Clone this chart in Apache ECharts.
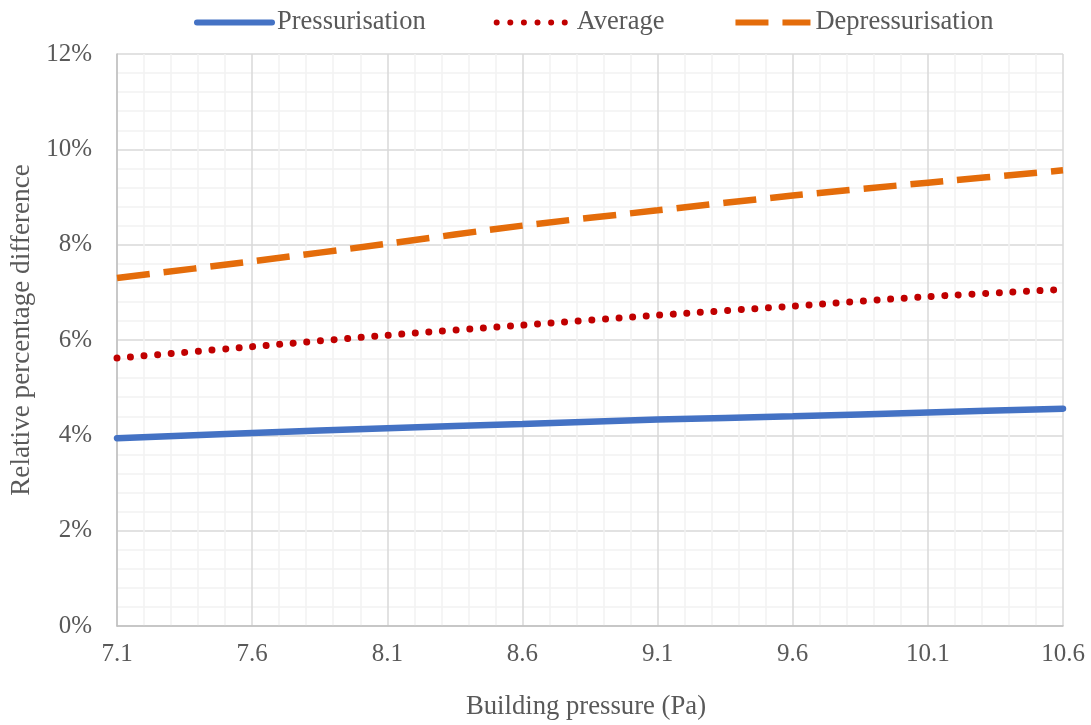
<!DOCTYPE html>
<html>
<head>
<meta charset="utf-8">
<script src="https://cdn.jsdelivr.net/npm/echarts@6/dist/echarts.min.js"></script>
<style>
html,body{margin:0;padding:0;background:#fff;}
#c{width:1091px;height:725px;}
</style>
</head>
<body>
<div id="c"></div>
<script>
const pressures = [7.1, 7.6, 8.1, 8.6, 9.1, 9.6, 10.1, 10.6];
const pressurisation = [3.94, 4.05, 4.15, 4.24, 4.33, 4.40, 4.48, 4.56];
const average = [5.62, 5.86, 6.10, 6.31, 6.52, 6.71, 6.91, 7.06];
const depressurisation = [7.30, 7.65, 8.02, 8.40, 8.72, 9.03, 9.30, 9.56];
const seriesNames = ['Pressurisation', 'Average', 'Depressurisation'];
const xTitle = 'Building pressure (Pa)';
const yTitle = 'Relative percentage difference';

const FONT = 'Liberation Serif';
const TXT = '#595959';
const MAJOR = '#d9d9d9';
const MINOR = '#f2f2f2';

function pairs(ys) { return pressures.map((x, i) => [x, ys[i]]); }

const chart = echarts.init(document.getElementById('c'), null, {renderer: 'canvas'});
chart.setOption({
  backgroundColor: '#fff',
  animation: false,
  textStyle: {fontFamily: FONT, color: TXT},
  legend: {
    top: 4, left: 189,
    itemWidth: 75, itemHeight: 28, itemGap: 68,
    textStyle: {fontFamily: FONT, fontSize: 26.5, color: TXT},
    lineStyle: {width: 6},
    itemStyle: {opacity: 0},
    data: seriesNames
  },
  grid: {left: 117, right: 28, top: 54, bottom: 97, containLabel: false},
  xAxis: {
    type: 'value', min: 7.1, max: 10.6, interval: 0.1,
    name: xTitle, nameLocation: 'middle', nameGap: 67,
    nameTextStyle: {fontFamily: FONT, fontSize: 26.7, color: TXT, padding: [0, 8, 0, 0]},
    axisLine: {show: true, lineStyle: {color: '#bfbfbf', width: 1.5}},
    axisTick: {show: false},
    axisLabel: {
      margin: 16, fontFamily: FONT, fontSize: 25, color: TXT,
      formatter: function (v) {
        const k = Math.round((v - 7.1) * 10);
        return k % 5 === 0 ? v.toFixed(1) : '';
      }
    },
    splitLine: {show: true, lineStyle: {color: [MAJOR, MINOR, MINOR, MINOR, MINOR], width: 1.5}}
  },
  yAxis: {
    type: 'value', min: 0, max: 12, interval: 2,
    name: yTitle, nameLocation: 'middle', nameGap: 80,
    nameTextStyle: {fontFamily: FONT, fontSize: 27.2, color: TXT, padding: [0, 0, 0, 20]},
    axisLine: {show: true, lineStyle: {color: '#bfbfbf', width: 1.5}},
    axisTick: {show: false},
    axisLabel: {margin: 25, fontFamily: FONT, fontSize: 25, color: TXT, formatter: v => v + '%'},
    splitLine: {show: true, lineStyle: {color: MAJOR, width: 1.5}},
    minorTick: {show: false, splitNumber: 5},
    minorSplitLine: {show: true, lineStyle: {color: MINOR, width: 1.5}}
  },
  series: [
    {
      name: seriesNames[0], type: 'line', data: pairs(pressurisation),
      symbol: 'none', smooth: 0.3, clip: false,
      lineStyle: {color: '#4472C4', width: 6.5, cap: 'round'},
      itemStyle: {color: '#4472C4'}
    },
    {
      name: seriesNames[1], type: 'line', data: pairs(average),
      symbol: 'none', smooth: 0.3, clip: false,
      lineStyle: {color: '#C00000', width: 7, type: [0.01, 13.6], cap: 'round'},
      itemStyle: {color: '#C00000'}
    },
    {
      name: seriesNames[2], type: 'line', data: pairs(depressurisation),
      symbol: 'none', smooth: 0.3, clip: false,
      lineStyle: {color: '#E46C0A', width: 6.5, type: [33, 14], cap: 'butt'},
      itemStyle: {color: '#E46C0A'}
    }
  ]
});
</script>
</body>
</html>
